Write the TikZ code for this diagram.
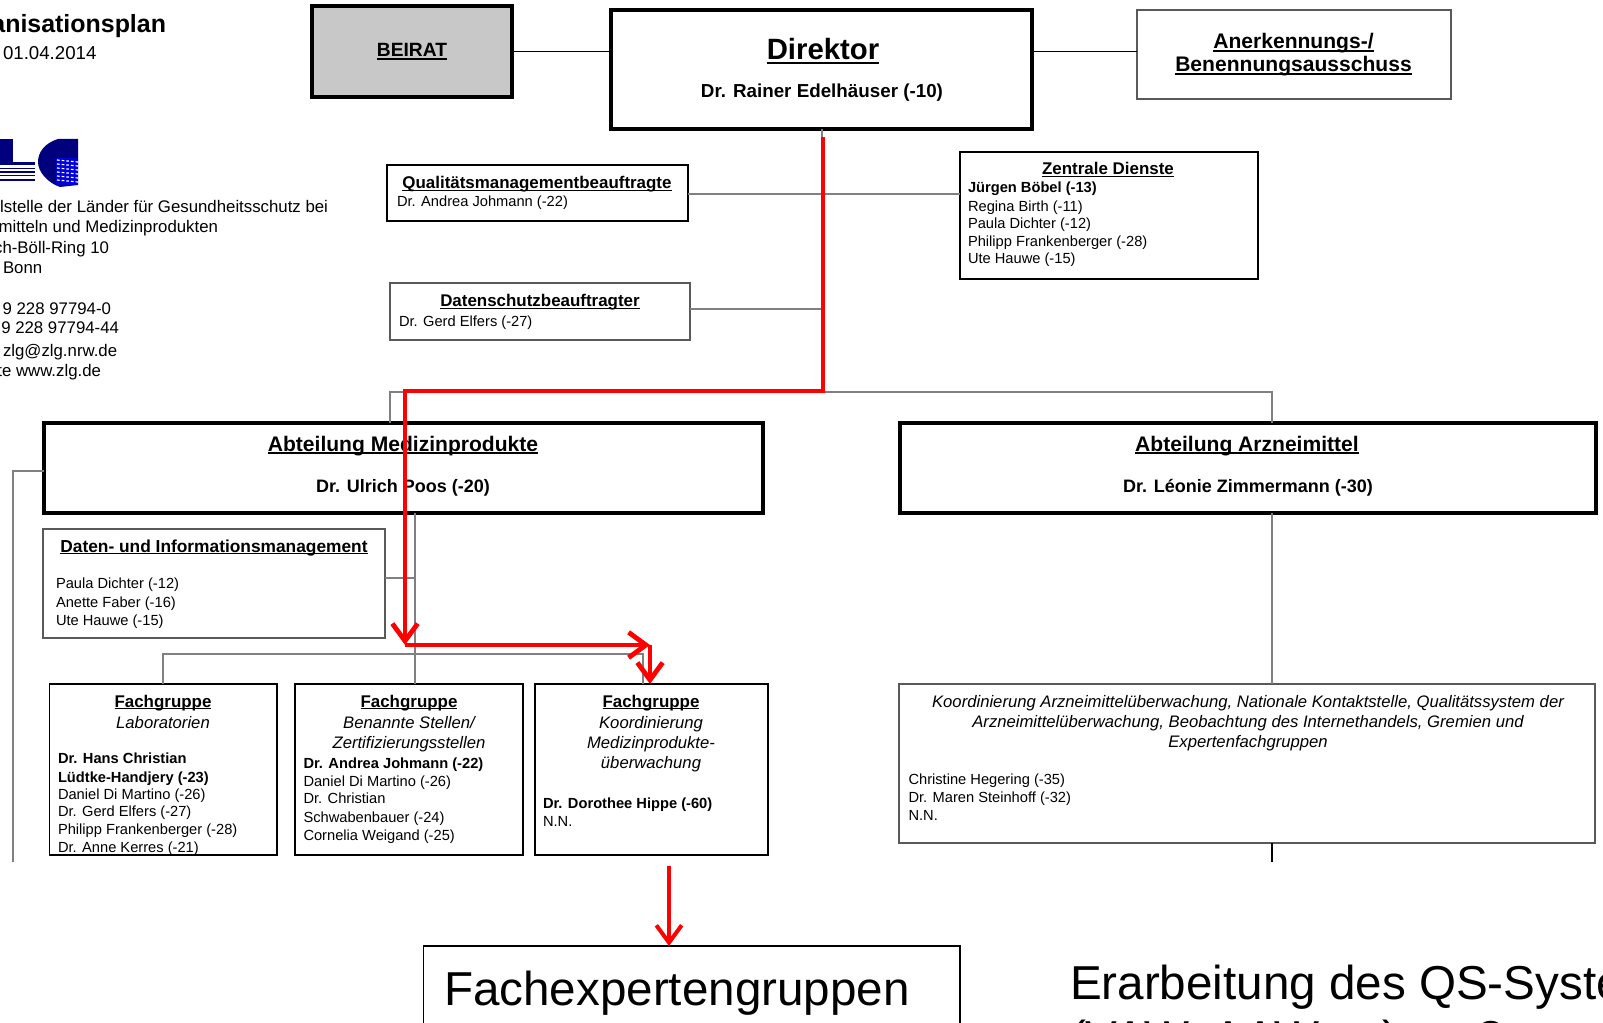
\documentclass[tikz,border=0pt]{standalone}
\usepackage{fontspec}
\setmainfont{Liberation Sans}
\usetikzlibrary{arrows.meta,calc}
\definecolor{navy}{HTML}{00007F}
\definecolor{linegray}{gray}{0.5}
\definecolor{beiratgray}{HTML}{C8C8C8}
\newcommand\uln[1]{\setbox0\hbox{#1}\rlap{\rule[-0.14em]{\wd0}{0.08em}}\box0 }
\newcounter{txn}
\newcommand\tline[5]{\stepcounter{txn}\node[txt,anchor=#1,#4] (t\arabic{txn}) at (#2,#3) {#5};}
\newcommand\bx[6]{%
  \pgfmathsetmacro\bxw{(#5-#3)*0.75}\pgfmathsetmacro\bxh{(#6-#4)*0.75}%
  \node[#1,minimum width=\bxw pt,minimum height=\bxh pt] (#2) at ({(#3+#5)/2},{(#4+#6)/2}) {};}
\tikzset{
  txt/.style={inner sep=0pt,outer sep=0pt},
  plainbox/.style={draw=black,fill=white,line width=1.1pt,inner sep=0pt,outer sep=0pt},
  greybox/.style={plainbox,draw=black!65},
  headbox/.style={plainbox,line width=2.6pt},
  beiratbox/.style={headbox,fill=beiratgray},
  conn/.style={draw=linegray,line width=1.1pt},
  connblack/.style={draw=black,line width=1.1pt},
  redline/.style={draw=red,line width=3.6pt,line join=miter},
  redtip/.style={-{Straight Barb[length=13pt,width=19pt]}},
  fsmall/.style={font=\fontsize{11pt}{13pt}\selectfont},
  fsmallb/.style={font=\fontsize{11pt}{13pt}\selectfont\bfseries},
  fital/.style={font=\fontsize{12.5pt}{15pt}\selectfont\itshape},
  ftitle/.style={font=\fontsize{12.7pt}{15pt}\selectfont\bfseries},
  fhead/.style={font=\fontsize{15.8pt}{18pt}\selectfont\bfseries},
  fperson/.style={font=\fontsize{13.5pt}{16pt}\selectfont\bfseries},
  faddr/.style={font=\fontsize{12.6pt}{15pt}\selectfont},
  fbig/.style={font=\fontsize{35.7pt}{42pt}\selectfont},
}
\begin{document}
\begin{tikzpicture}[x=0.75pt,y=-0.75pt]
\useasboundingbox (0,0) rectangle (1603,1023);
\clip (0,0) rectangle (1603,1023);
\fill[white] (0,0) rectangle (1603,1023);

% junction points
\coordinate (jdir) at (822,392);
\coordinate (jleft) at (390,392);
\coordinate (jright) at (1272,392);
\coordinate (jmed) at (415,513);
\coordinate (jdaten) at (415,578);
\coordinate (jbusl) at (163,654);
\coordinate (jbusr) at (643,654);
\coordinate (jarz) at (1272,513);
\coordinate (jarzend) at (1272,862);
\coordinate (jside) at (13,471);
\coordinate (jsideend) at (13,862);

% boxes
\bx{beiratbox}{beirat}{312}{6}{512}{97}
\bx{headbox}{direktor}{611}{10}{1032}{129}
\bx{greybox}{anerk}{1137}{10}{1451}{99}
\bx{plainbox}{quali}{387}{165}{688}{221}
\bx{greybox}{datensch}{390}{283}{690}{340}
\bx{plainbox}{zentral}{960}{152}{1258}{279}
\bx{headbox}{abtmed}{44}{423}{763}{513}
\bx{headbox}{abtarz}{900}{423}{1596}{513}
\bx{greybox}{daten}{43}{529}{385}{638}
\bx{plainbox}{fg1}{49.5}{684}{277}{855}
\bx{plainbox}{fg2}{295}{684}{523}{855}
\bx{plainbox}{fg3}{535}{684}{768}{855}
\bx{greybox}{koord}{899}{684}{1595}{843}
\bx{plainbox}{fachexp}{423.5}{946}{960}{1040}

% connectors
\begin{scope}[on background layer/.style={}]
\draw[connblack] (beirat.east) -- (beirat.east -| direktor.west);
\draw[connblack] (direktor.east |- beirat.east) -- (anerk.west |- beirat.east);
\draw[conn] (direktor.south -| jdir) -- (jdir);
\draw[conn] (quali.east |- 0,194) -- (zentral.west |- 0,194);
\draw[conn] (datensch.east |- 0,309) -- (jdir |- 0,309);
\draw[conn] (abtmed.north -| jleft) -- (jleft) -- (jright) -- (abtarz.north -| jright);
\draw[conn] (jmed) -- (fg2.north -| jmed);
\draw[conn] (daten.east |- jdaten) -- (jdaten);
\draw[conn] (fg1.north -| jbusl) -- (jbusl) -- (jbusr) -- (fg3.north -| jbusr);
\draw[conn] (jarz) -- (koord.north -| jarz);
\draw[connblack] (koord.south -| jarz) -- (jarzend);
\draw[conn] (abtmed.west |- jside) -- (jside) -- (jsideend);
\end{scope}

% logo
\fill[navy] (0,139) rectangle (13,162);
\fill[navy] (0,162) rectangle (35,165);
\foreach \yy in {168.5,172,175.5,180} \fill[navy] (0,\yy-0.6) rectangle (35,\yy+0.6);
\fill[navy] (78,139) -- (58,139) .. controls (45,143) and (38,152) .. (38,162)
  .. controls (38,172) and (48,183) .. (60,187) -- (78,185) -- (78,158) -- (70,158) .. controls (62,158) and (58,160) .. (56,165) -- (56,172) -- (78,172) -- cycle;
\fill[blue!70!navy] (56,158) rectangle (78,185);
\foreach \yy in {160,164,168,172,176,180}
  \draw[white,line width=0.9pt,dash pattern=on 2pt off 1.5pt] (57,\yy) -- (78,\yy+2);

% header text
\tline{base east}{166}{33}{font=\fontsize{18.7pt}{22pt}\selectfont\bfseries}{anisationsplan}
\tline{base west}{3}{60}{font=\fontsize{14pt}{17pt}\selectfont}{01.04.2014}
\tline{base east}{328}{213}{faddr}{lstelle der Länder für Gesundheitsschutz bei}
\tline{base east}{218}{233}{faddr}{mitteln und Medizinprodukten}
\tline{base east}{109}{254}{faddr}{ch-Böll-Ring 10}
\tline{base west}{3}{274}{faddr}{Bonn}
\tline{base east}{111}{315}{faddr}{9 228 97794-0}
\tline{base east}{119}{334}{faddr}{9 228 97794-44}
\tline{base west}{3}{357}{faddr}{zlg@zlg.nrw.de}
\tline{base east}{101}{377}{faddr}{te www.zlg.de}

% box text
\tline{base}{412}{57}{font=\fontsize{14.4pt}{17pt}\selectfont\bfseries}{\uln{BEIRAT}}
\tline{base}{823}{60}{font=\fontsize{22pt}{26pt}\selectfont\bfseries}{\uln{Direktor}}
\tline{base}{822}{98}{font=\fontsize{14.1pt}{17pt}\selectfont\bfseries}{Dr. Rainer Edelhäuser (-10)}
\tline{base}{1293.5}{49}{fhead}{\uln{Anerkennungs-/}}
\tline{base}{1293.5}{72}{fhead}{\uln{Benennungsausschuss}}

\tline{base}{537}{189}{ftitle}{\uln{Qualitätsmanagementbeauftragte}}
\tline{base west}{397}{207}{fsmall}{Dr. Andrea Johmann (-22)}
\tline{base}{540}{307}{ftitle}{\uln{Datenschutzbeauftragter}}
\tline{base west}{399}{327}{fsmall}{Dr. Gerd Elfers  (-27)}

\tline{base}{1108}{175}{ftitle}{\uln{Zentrale Dienste}}
\tline{base west}{968}{193}{fsmallb}{Jürgen Böbel  (-13)}
\tline{base west}{968}{212}{fsmall}{Regina Birth (-11)}
\tline{base west}{968}{229}{fsmall}{Paula Dichter (-12)}
\tline{base west}{968}{247}{fsmall}{Philipp  Frankenberger (-28)}
\tline{base west}{968}{264}{fsmall}{Ute Hauwe (-15)}

\tline{base}{403}{451}{fhead}{\uln{Abteilung Medizinprodukte}}
\tline{base}{403}{492}{fperson}{Dr. Ulrich Poos (-20)}
\tline{base}{1247}{451}{fhead}{\uln{Abteilung Arzneimittel}}
\tline{base}{1248}{492}{fperson}{Dr. Léonie Zimmermann (-30)}

\tline{base}{214}{552}{font=\fontsize{13pt}{15pt}\selectfont\bfseries}{\uln{Daten- und Informationsmanagement}}
\tline{base west}{56}{588}{fsmall}{Paula Dichter (-12)}
\tline{base west}{56}{607}{fsmall}{Anette Faber (-16)}
\tline{base west}{56}{625}{fsmall}{Ute Hauwe (-15)}

\tline{base}{163}{707}{ftitle}{\uln{Fachgruppe}}
\tline{base}{163}{728}{fital}{Laboratorien}
\tline{base west}{58}{763}{fsmallb}{Dr. Hans Christian}
\tline{base west}{58}{782}{fsmallb}{Lüdtke-Handjery (-23)}
\tline{base west}{58}{799}{fsmall}{Daniel Di Martino (-26)}
\tline{base west}{58}{816}{fsmall}{Dr. Gerd Elfers (-27)}
\tline{base west}{58}{834}{fsmall}{Philipp  Frankenberger (-28)}
\tline{base west}{58}{852}{fsmall}{Dr. Anne Kerres (-21)}

\tline{base}{409}{707}{ftitle}{\uln{Fachgruppe}}
\tline{base}{409}{728}{fital}{Benannte Stellen/}
\tline{base}{409}{748}{fital}{Zertifizierungsstellen}
\tline{base west}{303.5}{768}{fsmallb}{Dr. Andrea Johmann (-22)}
\tline{base west}{303.5}{786}{fsmall}{Daniel Di Martino (-26)}
\tline{base west}{303.5}{803}{fsmall}{Dr. Christian}
\tline{base west}{303.5}{822}{fsmall}{Schwabenbauer (-24)}
\tline{base west}{303.5}{840}{fsmall}{Cornelia Weigand (-25)}

\tline{base}{651}{707}{ftitle}{\uln{Fachgruppe}}
\tline{base}{651}{728}{fital}{Koordinierung}
\tline{base}{651}{748}{fital}{Medizinprodukte-}
\tline{base}{651}{768}{fital}{überwachung}
\tline{base west}{543}{808}{fsmallb}{Dr. Dorothee Hippe (-60)}
\tline{base west}{543}{826}{fsmall}{N.N.}

\tline{base}{1248}{707}{fital}{Koordinierung Arzneimittelüberwachung, Nationale Kontaktstelle, Qualitätssystem der}
\tline{base}{1248}{727}{fital}{Arzneimittelüberwachung, Beobachtung des Internethandels, Gremien und}
\tline{base}{1248}{747}{fital}{Expertenfachgruppen}
\tline{base west}{908.5}{784}{fsmall}{Christine Hegering (-35)}
\tline{base west}{908.5}{802}{fsmall}{Dr. Maren Steinhoff (-32)}
\tline{base west}{908.5}{820}{fsmall}{N.N.}

\tline{base west}{444}{1005}{fbig}{Fachexpertengruppen}
\tline{base west}{1070}{999}{fbig}{Erarbeitung des QS-Systems}
\tline{base west}{1070}{1054}{fbig}{(VAW, AAW, ...) → ?}

% red overlay
\coordinate (r0) at (823,137);
\coordinate (r1) at (405,391);
\coordinate (r2) at (405,645);
\coordinate (r3) at (650,645);
\coordinate (r4) at (669,866);
\draw[redline,redtip] (r0) |- (r1) -- (r2);
\draw[redline,redtip] (r2) -- (r3);
\draw[redline,redtip] (r3) -- (r3 |- fg3.north);
\draw[redline,line width=3pt,redtip] (r4) -- (r4 |- fachexp.north);
\end{tikzpicture}
\end{document}
